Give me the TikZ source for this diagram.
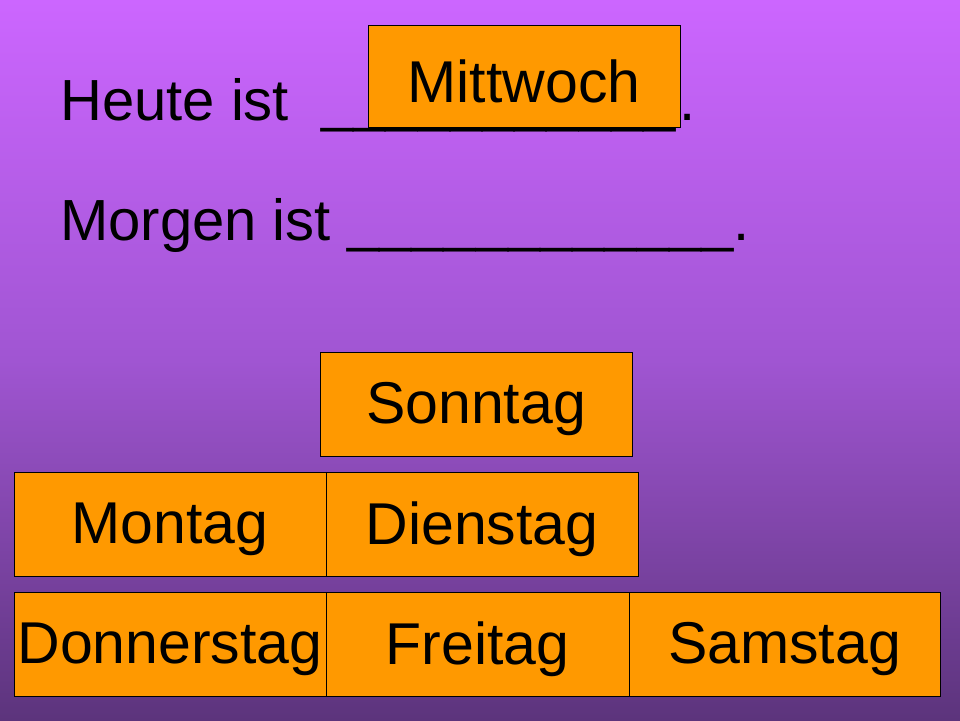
\documentclass[tikz,border=0pt]{standalone}
\usepackage{fontspec}
\setmainfont{Liberation Sans}
\begin{document}
\begin{tikzpicture}[x=1pt,y=-1pt,
  day/.style={draw=black,line width=0.8pt,fill={rgb,255:red,255;green,153;blue,0}},
  line/.style={anchor=base west,inner sep=0pt,font=\fontsize{58}{62}\selectfont}]
\definecolor{topc}{RGB}{204,102,255}
\definecolor{botc}{RGB}{92,52,124}
\shade[top color=topc,bottom color=botc,middle color={rgb,255:red,160;green,85;blue,210}] (0,0) rectangle (960,720);
\useasboundingbox (0,0) rectangle (960,720);
\node[line] (l1) at (60,120) {Heute ist \ \_\_\_\_\_\_\_\_\_\_\_\kern3pt.};
\node[line] (l2) at (60,240) {Morgen ist \_\_\_\_\_\_\_\_\_\_\_\_.};
\newcommand{\daybox}[5]{\draw[day] (#1,#2) rectangle (#3,#4); \node[font=\fontsize{59}{62}\selectfont,inner sep=0pt] (#5) at ({(#1+#3)/2},{(#2+#4)/2+5}) {#5};}
\daybox{368}{25}{680}{127}{Mittwoch}
\daybox{320}{352}{632}{456}{Sonntag}
\daybox{14}{472}{326}{576}{Montag}
\daybox{326}{472}{638}{576}{Dienstag}
\daybox{14}{592}{326}{696}{Donnerstag}
\daybox{326}{592}{629}{696}{Freitag}
\daybox{629}{592}{940}{696}{Samstag}
\end{tikzpicture}
\end{document}
